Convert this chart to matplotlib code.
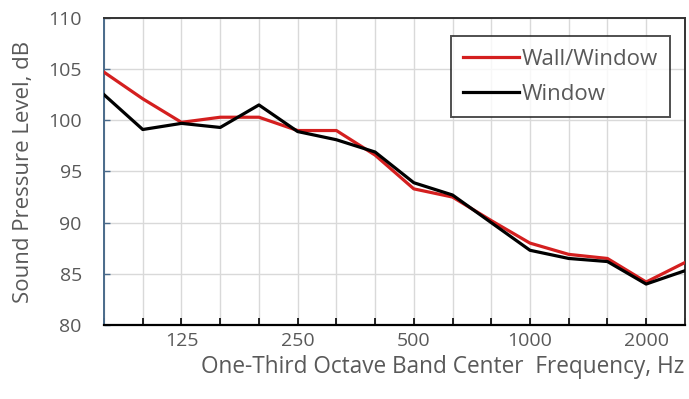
import matplotlib.pyplot as plt

# one-third octave band centre frequencies, Hz
bands = [80, 100, 125, 160, 200, 250, 315, 400, 500, 630, 800, 1000, 1250, 1600, 2000, 2500]
labelled = [125, 250, 500, 1000, 2000]

# sound pressure level per band, dB
wall_window = [104.7, 102.1, 99.8, 100.3, 100.3, 99.0, 99.0, 96.6, 93.3, 92.5, 90.2, 88.0, 86.9, 86.5, 84.2, 86.1]
window = [102.5, 99.1, 99.7, 99.3, 101.5, 98.9, 98.1, 96.9, 93.9, 92.7, 90.0, 87.3, 86.5, 86.2, 84.0, 85.3]

plt.rcParams['font.family'] = ['Open Sans', 'DejaVu Sans']
text_gray = '#595959'

fig = plt.figure(figsize=(6.89, 3.99), dpi=100)
ax = fig.add_axes([0.151, 0.1855, 0.843, 0.7695])

x = list(range(len(bands)))
ax.plot(x, wall_window, color='#d41f1f', lw=2.3, label='Wall/Window', zorder=3)
ax.plot(x, window, color='black', lw=2.3, label='Window', zorder=4)

ax.set_xlim(0, len(bands) - 1)
ax.set_ylim(80, 110)
ax.set_yticks(range(80, 111, 5))
ax.set_xticks(x)
ax.set_xticklabels([str(b) if b in labelled else '' for b in bands])

ax.grid(True, color='#d9d9d9', lw=1)
ax.set_axisbelow(True)

ax.tick_params(axis='x', direction='in', length=5, width=1.2, color='black',
               labelsize=14, labelcolor=text_gray, pad=5)
ax.tick_params(axis='y', direction='in', length=4, width=1, color='#4a6a8a',
               labelsize=14, labelcolor=text_gray, pad=16)

ax.spines['bottom'].set_color('black')
ax.spines['bottom'].set_linewidth(1.6)
ax.spines['left'].set_color('#4a6a8a')
ax.spines['left'].set_linewidth(1.4)
for side in ('top', 'right'):
    ax.spines[side].set_color('#333333')
    ax.spines[side].set_linewidth(1.4)

ax.set_ylabel('Sound Pressure Level, dB', fontsize=16, color=text_gray, labelpad=10)
ax.set_xlabel('One-Third Octave Band Center  Frequency, Hz', fontsize=16.3,
              color=text_gray, loc='right', labelpad=4)

leg = ax.legend(loc='upper right', bbox_to_anchor=(0.975, 0.94), fontsize=16,
                frameon=True, fancybox=False, edgecolor='#222222',
                handlelength=2.5, handletextpad=0.15, borderpad=0.55,
                labelspacing=0.65, borderaxespad=0)
leg.get_frame().set_linewidth(1.4)
for t in leg.get_texts():
    t.set_color(text_gray)

fig.savefig('out.png', dpi=100)
